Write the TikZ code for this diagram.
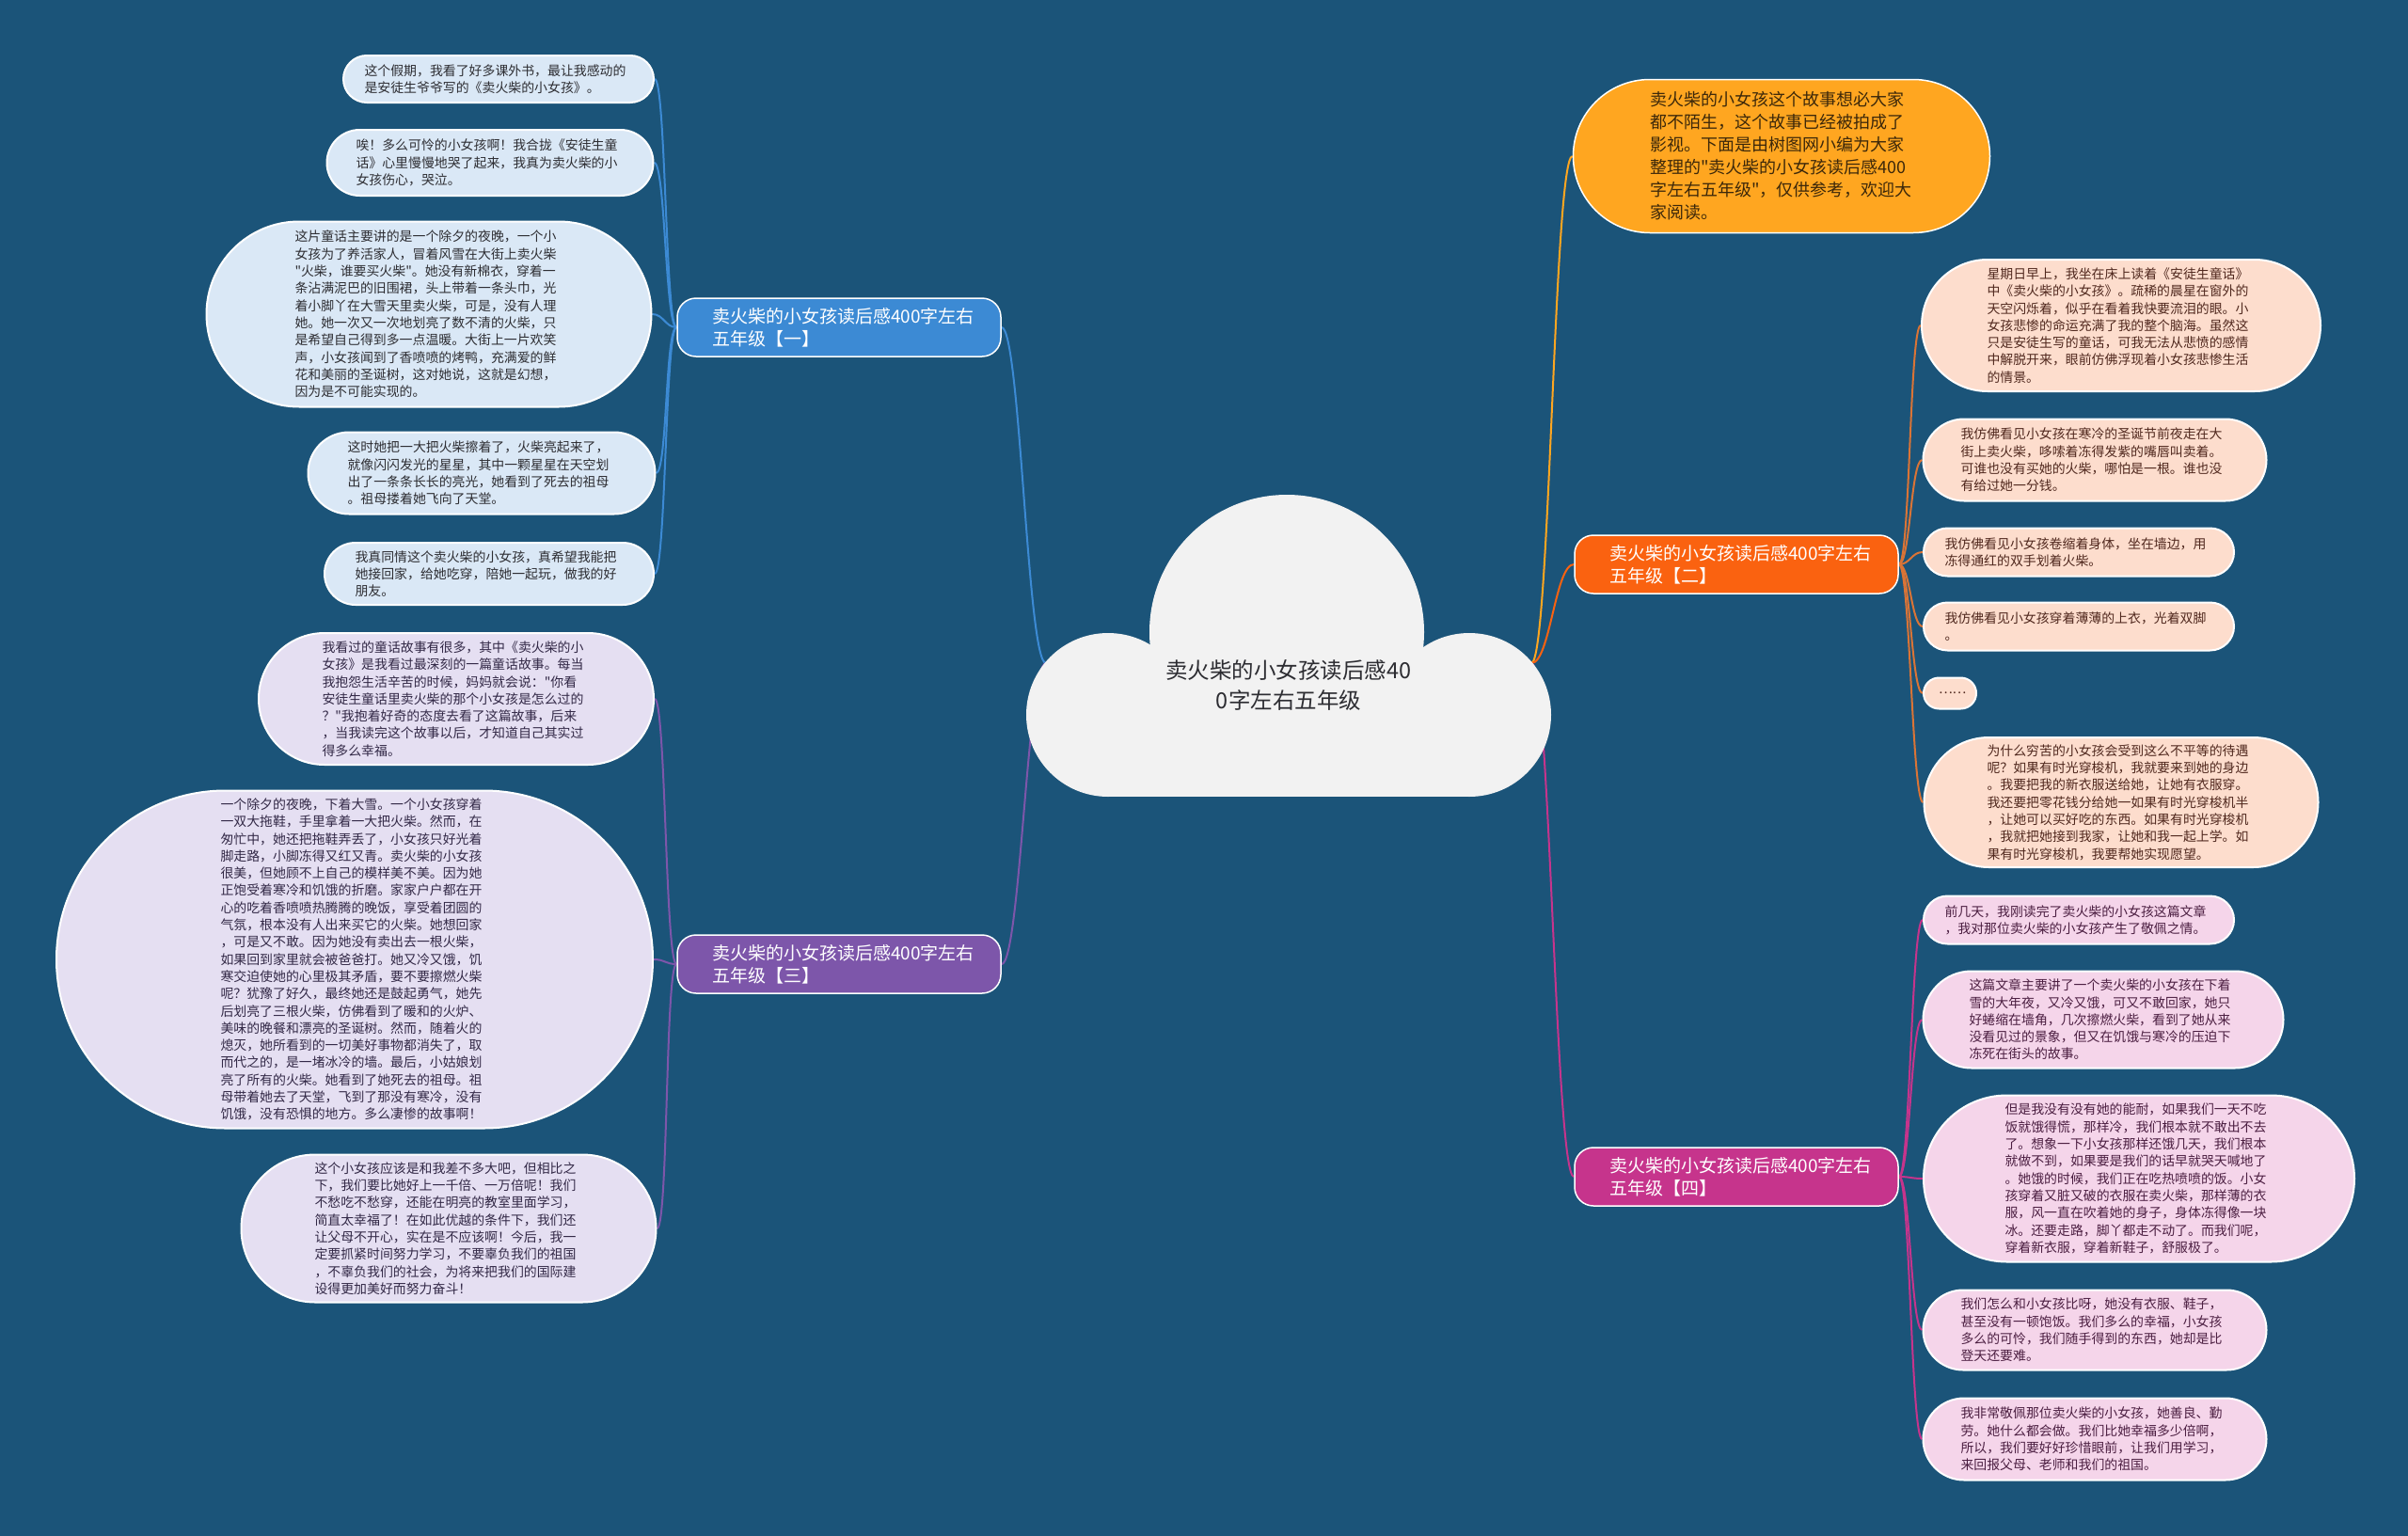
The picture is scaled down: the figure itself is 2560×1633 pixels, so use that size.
\documentclass[tikz,border=0pt]{standalone}
\usepackage{fontspec}
\setmainfont{Noto Sans CJK SC}[Ligatures=TeXOff]
\usetikzlibrary{shapes.misc, positioning}
\pgfdeclarelayer{bg}
\pgfsetlayers{bg,main}

\definecolor{bgblue}{RGB}{27,84,121}
\definecolor{cloudgray}{RGB}{242,242,242}
\definecolor{introfill}{RGB}{255,166,32}
\definecolor{introtext}{RGB}{60,40,10}
\definecolor{oneblue}{RGB}{60,138,212}
\definecolor{twored}{RGB}{250,98,16}
\definecolor{twoline}{RGB}{218,116,54}
\definecolor{threepurple}{RGB}{125,86,170}
\definecolor{fourpink}{RGB}{198,52,140}
\definecolor{leafblue}{RGB}{218,232,246}
\definecolor{leafpeach}{RGB}{253,221,205}
\definecolor{leaflilac}{RGB}{229,223,242}
\definecolor{leafpink}{RGB}{245,213,234}
\definecolor{darktext}{RGB}{45,45,50}

\tikzset{
  leaf/.style={rounded rectangle, draw=white, line width=2pt, inner sep=0pt,
    align=left, text width=285pt, text=darktext,
    font=\fontsize{13.9}{18.3}\selectfont},
  leafone/.style={leaf, fill=leafblue},
  leaftwo/.style={leaf, fill=leafpeach, text={rgb,255:red,80;green,40;blue,30}},
  leafthree/.style={leaf, fill=leaflilac, text={rgb,255:red,50;green,40;blue,70}},
  leaffour/.style={leaf, fill=leafpink, text={rgb,255:red,75;green,30;blue,65}},
  branch/.style={rectangle, rounded corners=20pt, draw=white, line width=1.5pt,
    minimum width=344pt, minimum height=62pt, text width=270pt, inner sep=0pt,
    align=left, text=white, font=\fontsize{19}{24}\selectfont},
  link/.style={line width=2pt},
  goleft/.style={out=180, in=0, distance=12pt},
  goright/.style={out=0, in=180, distance=12pt},
}

\begin{document}
\begin{tikzpicture}[x=1pt, y=-1pt]
\useasboundingbox (0,0) rectangle (2560,1633);

% centre cloud
\fill[cloudgray] (1368,672) circle[radius=146];
\fill[cloudgray] (1178,760) circle[radius=87];
\fill[cloudgray] (1562,760) circle[radius=87];
\fill[cloudgray] (1178,760) rectangle (1562,847);
\node[align=center, text=darktext, font=\fontsize{23.5}{32}\selectfont] (root) at (1370,728)
  {卖火柴的小女孩读后感40\\0字左右五年级};
\coordinate (cl) at (1112,705);
\coordinate (cr) at (1628,705);

% intro
\node[rounded rectangle, draw=white, line width=1.5pt, fill=introfill, text=introtext,
  inner sep=0pt, minimum width=443pt, minimum height=163pt, text width=280pt, align=left,
  font=\fontsize{18}{24}\selectfont] (intro) at (1894,166)
  {卖火柴的小女孩这个故事想必大家\\都不陌生，这个故事已经被拍成了\\影视。下面是由树图网小编为大家\\整理的"卖火柴的小女孩读后感400\\字左右五年级"，仅供参考，欢迎大\\家阅读。};

% branches
\node[branch, fill=oneblue] (b1) at (892,348) {卖火柴的小女孩读后感400字左右\\五年级【一】};
\node[branch, fill=twored] (b2) at (1846,600) {卖火柴的小女孩读后感400字左右\\五年级【二】};
\node[branch, fill=threepurple] (b3) at (892,1025) {卖火柴的小女孩读后感400字左右\\五年级【三】};
\node[branch, fill=fourpink] (b4) at (1846,1251) {卖火柴的小女孩读后感400字左右\\五年级【四】};

% leaves of one
\node[leafone, minimum width=330pt, minimum height=50pt] (l1a) at (530,84)
  {这个假期，我看了好多课外书，最让我感动的\\是安徒生爷爷写的《卖火柴的小女孩》。};
\node[leafone, minimum width=347pt, minimum height=70pt] (l1b) at (521,173)
  {唉！多么可怜的小女孩啊！我合拢《安徒生童\\话》心里慢慢地哭了起来，我真为卖火柴的小\\女孩伤心，哭泣。};
\node[leafone, minimum width=473pt, minimum height=197pt] (l1c) at (456,334)
  {这片童话主要讲的是一个除夕的夜晚，一个小\\女孩为了养活家人，冒着风雪在大街上卖火柴\\"火柴，谁要买火柴"。她没有新棉衣，穿着一\\条沾满泥巴的旧围裙，头上带着一条头巾，光\\着小脚丫在大雪天里卖火柴，可是，没有人理\\她。她一次又一次地划亮了数不清的火柴，只\\是希望自己得到多一点温暖。大街上一片欢笑\\声，小女孩闻到了香喷喷的烤鸭，充满爱的鲜\\花和美丽的圣诞树，这对她说，这就是幻想，\\因为是不可能实现的。};
\node[leafone, minimum width=369pt, minimum height=87pt] (l1d) at (512,503)
  {这时她把一大把火柴擦着了，火柴亮起来了，\\就像闪闪发光的星星，其中一颗星星在天空划\\出了一条条长长的亮光，她看到了死去的祖母\\。祖母搂着她飞向了天堂。};
\node[leafone, minimum width=350pt, minimum height=66pt] (l1e) at (520,610)
  {我真同情这个卖火柴的小女孩，真希望我能把\\她接回家，给她吃穿，陪她一起玩，做我的好\\朋友。};

% leaves of three
\node[leafthree, minimum width=420pt, minimum height=140pt] (l3a) at (485,743)
  {我看过的童话故事有很多，其中《卖火柴的小\\女孩》是我看过最深刻的一篇童话故事。每当\\我抱怨生活辛苦的时候，妈妈就会说："你看\\安徒生童话里卖火柴的那个小女孩是怎么过的\\？"我抱着好奇的态度去看了这篇故事，后来\\，当我读完这个故事以后，才知道自己其实过\\得多么幸福。};
\node[leafthree, minimum width=634pt, minimum height=359pt] (l3b) at (377,1020)
  {一个除夕的夜晚，下着大雪。一个小女孩穿着\\一双大拖鞋，手里拿着一大把火柴。然而，在\\匆忙中，她还把拖鞋弄丢了，小女孩只好光着\\脚走路，小脚冻得又红又青。卖火柴的小女孩\\很美，但她顾不上自己的模样美不美。因为她\\正饱受着寒冷和饥饿的折磨。家家户户都在开\\心的吃着香喷喷热腾腾的晚饭，享受着团圆的\\气氛，根本没有人出来买它的火柴。她想回家\\，可是又不敢。因为她没有卖出去一根火柴，\\如果回到家里就会被爸爸打。她又冷又饿，饥\\寒交迫使她的心里极其矛盾，要不要擦燃火柴\\呢？犹豫了好久，最终她还是鼓起勇气，她先\\后划亮了三根火柴，仿佛看到了暖和的火炉、\\美味的晚餐和漂亮的圣诞树。然而，随着火的\\熄灭，她所看到的一切美好事物都消失了，取\\而代之的，是一堵冰冷的墙。最后，小姑娘划\\亮了所有的火柴。她看到了她死去的祖母。祖\\母带着她去了天堂，飞到了那没有寒冷，没有\\饥饿，没有恐惧的地方。多么凄惨的故事啊！};
\node[leafthree, minimum width=441pt, minimum height=157pt] (l3c) at (477,1306)
  {这个小女孩应该是和我差不多大吧，但相比之\\下，我们要比她好上一千倍、一万倍呢！我们\\不愁吃不愁穿，还能在明亮的教室里面学习，\\简直太幸福了！在如此优越的条件下，我们还\\让父母不开心，实在是不应该啊！今后，我一\\定要抓紧时间努力学习，不要辜负我们的祖国\\，不辜负我们的社会，为将来把我们的国际建\\设得更加美好而努力奋斗！};

% leaves of two
\node[leaftwo, minimum width=424pt, minimum height=140pt] (r2a) at (2255,346)
  {星期日早上，我坐在床上读着《安徒生童话》\\中《卖火柴的小女孩》。疏稀的晨星在窗外的\\天空闪烁着，似乎在看着我快要流泪的眼。小\\女孩悲惨的命运充满了我的整个脑海。虽然这\\只是安徒生写的童话，可我无法从悲愤的感情\\中解脱开来，眼前仿佛浮现着小女孩悲惨生活\\的情景。};
\node[leaftwo, minimum width=365pt, minimum height=87pt] (r2b) at (2227,489)
  {我仿佛看见小女孩在寒冷的圣诞节前夜走在大\\街上卖火柴，哆嗦着冻得发紫的嘴唇叫卖着。\\可谁也没有买她的火柴，哪怕是一根。谁也没\\有给过她一分钱。};
\node[leaftwo, minimum width=330pt, minimum height=51pt] (r2c) at (2210,587)
  {我仿佛看见小女孩卷缩着身体，坐在墙边，用\\冻得通红的双手划着火柴。};
\node[leaftwo, minimum width=330pt, minimum height=51pt] (r2d) at (2210,666)
  {我仿佛看见小女孩穿着薄薄的上衣，光着双脚\\。};
\node[leaftwo, text width=24pt, align=center, minimum width=56pt, minimum height=33pt] (r2e) at (2073,737)
  {……};
\node[leaftwo, minimum width=419pt, minimum height=138pt] (r2f) at (2255,853)
  {为什么穷苦的小女孩会受到这么不平等的待遇\\呢？如果有时光穿梭机，我就要来到她的身边\\。我要把我的新衣服送给她，让她有衣服穿。\\我还要把零花钱分给她一如果有时光穿梭机半\\，让她可以买好吃的东西。如果有时光穿梭机\\，我就把她接到我家，让她和我一起上学。如\\果有时光穿梭机，我要帮她实现愿望。};

% leaves of four
\node[leaffour, minimum width=330pt, minimum height=51pt] (r4a) at (2210,978)
  {前几天，我刚读完了卖火柴的小女孩这篇文章\\，我对那位卖火柴的小女孩产生了敬佩之情。};
\node[leaffour, minimum width=383pt, minimum height=103pt] (r4b) at (2236,1084)
  {这篇文章主要讲了一个卖火柴的小女孩在下着\\雪的大年夜，又冷又饿，可又不敢回家，她只\\好蜷缩在墙角，几次擦燃火柴，看到了她从来\\没看见过的景象，但又在饥饿与寒冷的压迫下\\冻死在街头的故事。};
\node[leaffour, minimum width=458pt, minimum height=177pt] (r4c) at (2274,1253)
  {但是我没有没有她的能耐，如果我们一天不吃\\饭就饿得慌，那样冷，我们根本就不敢出不去\\了。想象一下小女孩那样还饿几天，我们根本\\就做不到，如果要是我们的话早就哭天喊地了\\。她饿的时候，我们正在吃热喷喷的饭。小女\\孩穿着又脏又破的衣服在卖火柴，那样薄的衣\\服，风一直在吹着她的身子，身体冻得像一块\\冰。还要走路，脚丫都走不动了。而我们呢，\\穿着新衣服，穿着新鞋子，舒服极了。};
\node[leaffour, minimum width=365pt, minimum height=85pt] (r4d) at (2227,1414)
  {我们怎么和小女孩比呀，她没有衣服、鞋子，\\甚至没有一顿饱饭。我们多么的幸福，小女孩\\多么的可怜，我们随手得到的东西，她却是比\\登天还要难。};
\node[leaffour, minimum width=365pt, minimum height=87pt] (r4e) at (2227,1530)
  {我非常敬佩那位卖火柴的小女孩，她善良、勤\\劳。她什么都会做。我们比她幸福多少倍啊，\\所以，我们要好好珍惜眼前，让我们用学习，\\来回报父母、老师和我们的祖国。};

% connectors under everything
\begin{pgfonlayer}{bg}
\fill[bgblue] (0,0) rectangle (2560,1633);
\draw[link, oneblue] (cl) to[goleft, distance=20pt] (b1.east);
\draw[link, threepurple] (cl) to[goleft, distance=20pt] (b3.east);
\draw[link, introfill] (cr) to[goright, distance=20pt] (intro.west);
\draw[link, twored] (cr) to[goright, distance=20pt] (b2.west);
\draw[link, fourpink] (cr) to[goright, distance=20pt] (b4.west);
\foreach \n in {l1a,l1b,l1c,l1d,l1e}
  \draw[link, oneblue] (b1.west) to[goleft] (\n.east);
\foreach \n in {l3a,l3b,l3c}
  \draw[link, threepurple] (b3.west) to[goleft] (\n.east);
\foreach \n in {r2a,r2b,r2c,r2d,r2e,r2f}
  \draw[link, twoline] (b2.east) to[goright] (\n.west);
\foreach \n in {r4a,r4b,r4c,r4d,r4e}
  \draw[link, fourpink] (b4.east) to[goright] (\n.west);
\end{pgfonlayer}
\end{tikzpicture}
\end{document}
